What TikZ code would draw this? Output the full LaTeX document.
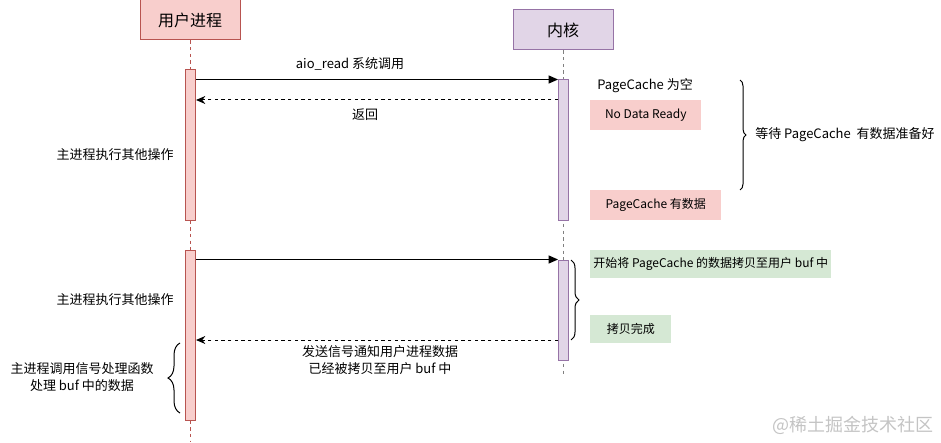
\documentclass[tikz,border=0pt]{standalone}
\usepackage{fontspec}
\setmainfont{Noto Sans CJK SC}
\usetikzlibrary{arrows.meta,decorations.pathreplacing}
\definecolor{redfill}{HTML}{F8CECC}
\definecolor{redline}{HTML}{B85450}
\definecolor{purfill}{HTML}{E1D5E7}
\definecolor{purline}{HTML}{9673A6}
\definecolor{grnfill}{HTML}{D5E8D4}
\definecolor{wmark}{HTML}{C4C4C4}
\begin{document}
\begin{tikzpicture}[x=0.75pt,y=-0.75pt,
  txt/.style={inner sep=0pt,font=\fontsize{9.75}{13}\selectfont,align=center},
  boxtxt/.style={inner sep=0pt,font=\fontsize{9}{11}\selectfont},
  head/.style={draw,line width=0.75pt,minimum width=75pt,minimum height=30pt,inner sep=0pt,font=\fontsize{12}{14}\selectfont},
  actbar/.style={draw,line width=0.75pt,minimum width=7.5pt,inner sep=0pt},
  note/.style={inner sep=0pt,minimum height=#1,font=\fontsize{9}{11}\selectfont},
  life/.style={line width=0.6pt,dash pattern=on 2.5pt off 2.5pt},
  call/.style={line width=0.75pt,-{Triangle[length=7pt,width=6pt]}},
  ret/.style={line width=0.75pt,dash pattern=on 2.5pt off 2.5pt,-{Stealth[length=7pt,width=6pt]}},
  br/.style={line width=0.75pt,decorate,decoration={brace,amplitude=#1}}
]
\useasboundingbox (0,0) rectangle (941,442);

% heads
\node[head,fill=redfill,draw=redline] (user) at (190,20) {用户进程};
\node[head,fill=purfill,draw=purline] (kern) at (563,30) {内核};

% lifelines
\coordinate (uend) at (190,442);
\coordinate (kend) at (563,377);
\draw[life,draw=redline] (user.south) -- (uend);
\draw[life,draw=gray] (kern.south) -- (kend);

% activation bars
\node[actbar,fill=redfill,draw=redline,minimum height=112.5pt] (ua1) at (190.5,145) {};
\node[actbar,fill=redfill,draw=redline,minimum height=127.5pt] (ua2) at (190.5,335) {};
\node[actbar,fill=purfill,draw=purline,minimum height=105pt] (ka1) at (563.5,150) {};
\node[actbar,fill=purfill,draw=purline,minimum height=75pt] (ka2) at (563.5,310) {};

% messages
\draw[call] (ua1.east |- ka1.north) -- (ka1.north west);
\draw[ret] (ka1.west |- 0,100) -- (ua1.east |- 0,100);
\draw[call] (ua2.east |- ka2.north) -- (ka2.north west);
\draw[ret] (ka2.west |- 0,340) -- (ua2.east |- 0,340);

\node[txt] (l1) at (350,64) {aio\_read 系统调用};
\node[txt] (l2) at (365,115) {返回};
\node[txt] (l3) at (380,360) {发送信号通知用户进程数据\\已经被拷贝至用户 buf 中};

% left labels
\node[txt] (m1) at (115,155) {主进程执行其他操作};
\node[txt] (m2) at (115,300) {主进程执行其他操作};
\node[txt] (m3) at (82,377) {主进程调用信号处理函数\\处理 buf 中的数据};
\coordinate (lb1) at (180,413);
\coordinate (lb2) at (180,343);
\draw[br=9pt] (lb1) -- (lb2);

% kernel side notes
\node[txt] (pe) at (645,86) {PageCache 为空};
\node[note=22.5pt,fill=redfill,anchor=north west,minimum width=83.25pt] (nd) at (590,100) {No Data Ready};
\node[note=22.5pt,fill=redfill,anchor=north west,minimum width=98.25pt] (hd) at (590,190) {PageCache 有数据};
\node[note=21pt,fill=grnfill,anchor=north west,minimum width=180.75pt] (cs) at (590,250) {开始将 PageCache 的数据拷贝至用户 buf 中};
\node[note=21pt,fill=grnfill,anchor=north west,minimum width=60.75pt] (cd) at (590,315) {拷贝完成};

\coordinate (rb1) at (740,80);
\coordinate (rb2) at (740,190);
\draw[br=4.5pt] (rb1) -- (rb2);
\node[txt,anchor=west] (wait) at (755,135) {等待 PageCache\ \ 有数据准备好};

\coordinate (kb1) at (571,260);
\coordinate (kb2) at (571,340);
\draw[br=6pt] (kb1) -- (kb2);

% watermark
\node[inner sep=0pt,anchor=east,text=wmark,font=\fontsize{13.5}{15}\selectfont] (wm) at (934,425) {@稀土掘金技术社区};
\end{tikzpicture}
\end{document}
